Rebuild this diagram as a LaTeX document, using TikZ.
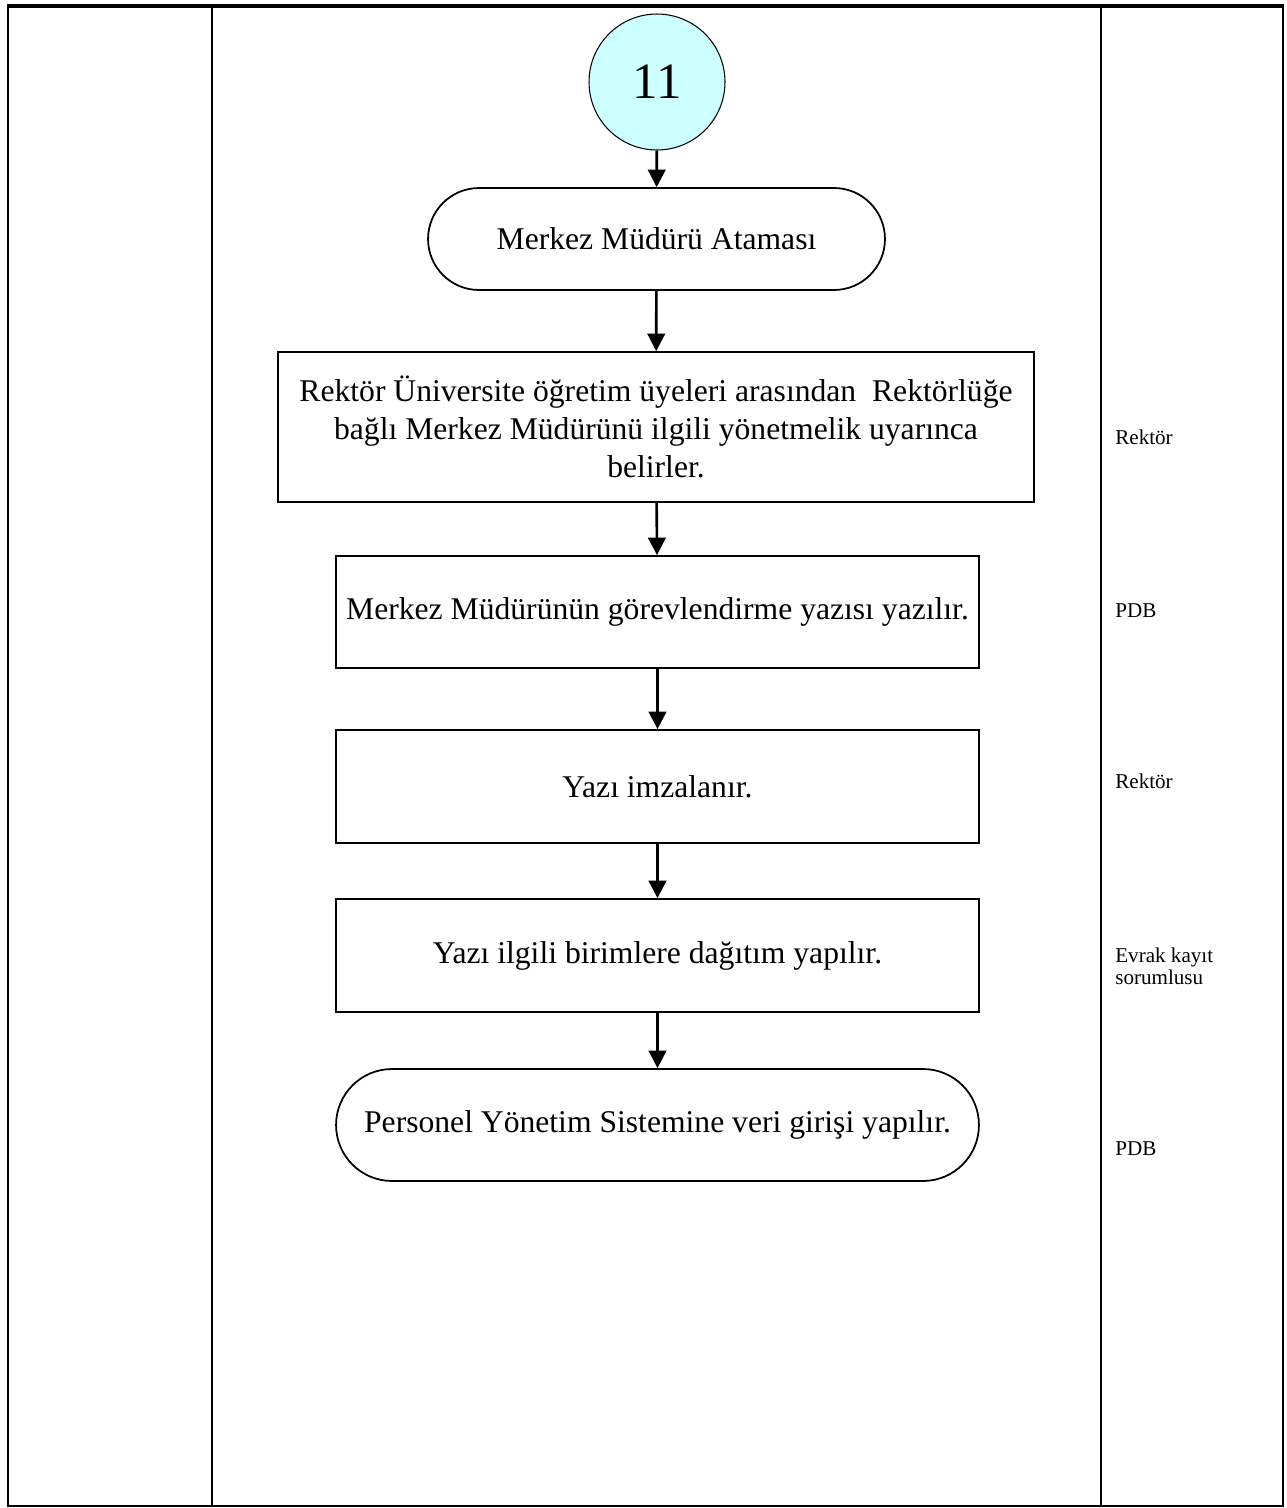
\documentclass[tikz,border=0pt]{standalone}
\usepackage{fontspec}
\setmainfont{Liberation Serif}
\usetikzlibrary{arrows.meta}
\definecolor{StartCyan}{RGB}{204, 255, 255}

\begin{document}
\begin{tikzpicture}[x=0.02cm, y=-0.02cm, >={Triangle[length=10pt, width=10pt]},
    akis/.style={draw, line width=1pt, align=center, inner sep=2pt, font=\fontsize{18}{21.6}\selectfont},
    kutu/.style={akis, rectangle},
    uc/.style={akis, rectangle, rounded corners=#1},
    sorumlu/.style={anchor=west, align=left, inner sep=0pt, font=\fontsize{12}{12.5}\selectfont},
    ok/.style={->, line width=1.5pt}]
          \useasboundingbox (0,0) rectangle (1287,1508);
          \draw[line width=1.4pt] (8,6) -- (8,1506) -- (1283,1506) -- (1283,6);
          \draw[line width=2.3pt] (7,6) -- (1284,6);
          \draw[line width=1.4pt] (212,6) -- (212,1506);
          \draw[line width=1.4pt] (1101,6) -- (1101,1506);
          \node[circle, draw, line width=0.6pt, fill=StartCyan, minimum size=2.72cm, font=\fontsize{29}{32}\selectfont] (bas) at (657,82) {11};
          \node[uc=1.02cm, minimum width=9.14cm, minimum height=2.04cm] (atama) at (656.5,239) {Merkez Müdürü Ataması};
          \node[kutu, minimum width=15.12cm, minimum height=3cm] (belirle) at (656,427) {Rektör Üniversite öğretim üyeleri arasından\ \ Rektörlüğe\\ bağlı Merkez Müdürünü ilgili yönetmelik uyarınca\\ belirler.};
          \node[kutu, minimum width=12.86cm, minimum height=2.24cm] (yazi) at (657.5,612) {Merkez Müdürünün görevlendirme yazısı yazılır.};
          \node[kutu, minimum width=12.86cm, minimum height=2.26cm] (imza) at (657.5,786.5) {Yazı imzalanır.};
          \node[kutu, minimum width=12.86cm, minimum height=2.26cm] (dagitim) at (657.5,955.5) {Yazı ilgili birimlere dağıtım yapılır.};
          \node[uc=1.12cm, minimum width=12.86cm, minimum height=2.24cm] (giris) at (657.5,1125) {Personel Yönetim Sistemine veri girişi yapılır.};
          \draw[ok] (bas) -- (atama);
          \draw[ok] (atama) -- (belirle);
          \draw[ok] (belirle) -- (yazi);
          \draw[ok] (yazi) -- (imza);
          \draw[ok] (imza) -- (dagitim);
          \draw[ok] (dagitim) -- (giris);
          \node[sorumlu] (s1) at (1115,437) {Rektör};
          \node[sorumlu] (s2) at (1115,611) {PDB};
          \node[sorumlu] (s3) at (1115,781) {Rektör};
          \node[sorumlu] (s4) at (1115,966) {Evrak kayıt\\ sorumlusu};
          \node[sorumlu] (s5) at (1115,1149) {PDB};
        \end{tikzpicture}
\end{document}
